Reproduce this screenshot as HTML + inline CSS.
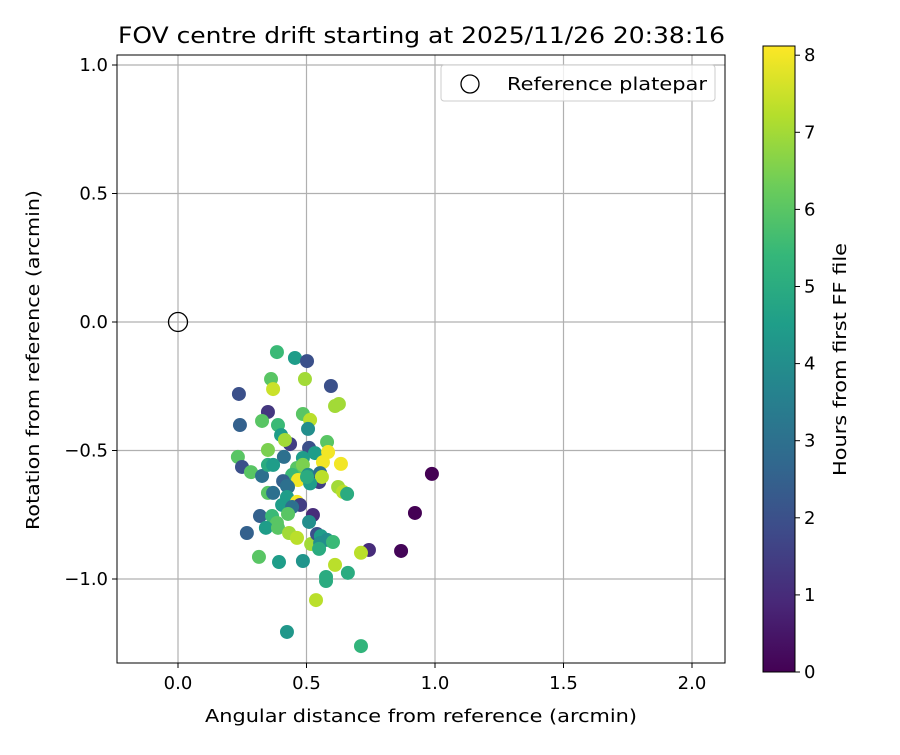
<!DOCTYPE html>
<html><head><meta charset="utf-8"><style>
body{margin:0;background:#fff}
svg text{font-family:"DejaVu Sans","Liberation Sans",sans-serif;fill:#000}
</style></head><body>
<svg id="chart" width="900" height="750" viewBox="0 0 900 750" xmlns="http://www.w3.org/2000/svg">
<defs>
<linearGradient id="vir" x1="0" y1="1" x2="0" y2="0"></linearGradient>
<clipPath id="clip"><rect x="117" y="55" width="608" height="608"/></clipPath>
</defs>
<rect width="900" height="750" fill="#fff"/>
<text x="118" y="43" font-size="22" textLength="607" lengthAdjust="spacingAndGlyphs">FOV centre drift starting at 2025/11/26 20:38:16</text>
<g id="grid"></g>
<g id="pts" clip-path="url(#clip)"></g>
<rect x="117" y="55" width="608" height="608" fill="none" stroke="#000" stroke-width="1"/>
<g id="ticks"></g>
<text x="205" y="722" font-size="18" textLength="432" lengthAdjust="spacingAndGlyphs">Angular distance from reference (arcmin)</text>
<text transform="translate(39,530) rotate(-90)" font-size="18" textLength="340" lengthAdjust="spacingAndGlyphs">Rotation from reference (arcmin)</text>
<g>
<rect x="441" y="65" width="274" height="36" rx="3" fill="#fff" fill-opacity="0.8" stroke="#ccc"/>
<circle cx="470" cy="84" r="9" fill="none" stroke="#000" stroke-width="1.3"/>
<text x="507" y="90" font-size="18" textLength="200" lengthAdjust="spacingAndGlyphs">Reference platepar</text>
</g>
<rect x="763" y="46" width="32" height="626" fill="url(#vir)" stroke="#000" stroke-width="1"/>
<g id="cbticks"></g>
<text transform="translate(846,476) rotate(-90)" font-size="18" textLength="233" lengthAdjust="spacingAndGlyphs">Hours from first FF file</text>
</svg>
<script>
const xs=[0.385,0.455,0.502,0.362,0.494,0.370,0.237,0.595,0.611,0.626,0.350,0.327,0.241,0.486,0.514,0.389,0.506,0.401,0.580,0.436,0.416,0.510,0.533,0.584,0.350,0.412,0.233,0.249,0.284,0.327,0.350,0.370,0.564,0.634,0.486,0.463,0.486,0.444,0.506,0.553,0.549,0.560,0.467,0.409,0.424,0.623,0.642,0.658,0.350,0.514,0.502,0.988,0.922,0.868,0.743,0.712,0.428,0.370,0.424,0.405,0.463,0.475,0.444,0.525,0.510,0.428,0.319,0.366,0.385,0.342,0.268,0.389,0.432,0.463,0.518,0.541,0.556,0.580,0.553,0.549,0.603,0.315,0.393,0.486,0.611,0.661,0.576,0.576,0.537,0.424,0.712];
const ys=[-0.117,-0.140,-0.152,-0.222,-0.222,-0.261,-0.280,-0.249,-0.327,-0.319,-0.350,-0.385,-0.401,-0.358,-0.381,-0.401,-0.416,-0.440,-0.467,-0.475,-0.459,-0.490,-0.510,-0.506,-0.498,-0.525,-0.525,-0.564,-0.584,-0.599,-0.556,-0.556,-0.545,-0.552,-0.529,-0.568,-0.556,-0.595,-0.595,-0.588,-0.623,-0.603,-0.615,-0.619,-0.638,-0.642,-0.661,-0.669,-0.665,-0.628,-0.603,-0.591,-0.743,-0.891,-0.887,-0.898,-0.642,-0.665,-0.681,-0.712,-0.700,-0.712,-0.720,-0.751,-0.778,-0.747,-0.755,-0.755,-0.782,-0.801,-0.821,-0.801,-0.821,-0.840,-0.864,-0.825,-0.833,-0.848,-0.860,-0.883,-0.856,-0.914,-0.934,-0.930,-0.945,-0.976,-0.992,-1.008,-1.082,-1.206,-1.261];
const hours=[5.5,4.5,2,6,7,7.5,2,2,7,7,1.3,6,2.5,6,7.3,5.5,4,4.5,6,1.5,7,2,4.5,8,6.5,3,6,2,6,3,5,4.5,8,8,4.5,6,6.5,5.5,4,3,1.5,7.3,8,2.5,3,7,7.3,5,6,4.5,5,0,0,0.1,1,7.3,3,3,4.5,4.5,8,1.5,3,1,4,6,2.5,5.5,6,4.5,2.5,6,7,7.3,7,2,4.5,4,4,5,5.5,6,4.5,4.2,7.3,5,5,5,7.3,4.3,5.3];
const xTicks=[0,0.5,1,1.5,2], xTickLabels=["0.0","0.5","1.0","1.5","2.0"];
const yTicks=[1,0.5,0,-0.5,-1], yTickLabels=["1.0","0.5","0.0","\u22120.5","\u22121.0"];
const cTicks=[0,1,2,3,4,5,6,7,8];
const NS="http://www.w3.org/2000/svg";
const X=v=>178+v*257, Y=v=>322-v*257, C=v=>672-v*77.1;
const vir=[[68,1,84],[72,40,120],[62,74,137],[49,104,142],[38,130,142],[31,158,137],[53,183,121],[109,205,89],[180,222,44],[253,231,37]];
function col(h){let t=Math.max(0,Math.min(1,h/8.13))*(vir.length-1);let i=Math.min(Math.floor(t),vir.length-2),f=t-i;const c=vir[i].map((a,k)=>Math.round(a+(vir[i+1][k]-a)*f));return `rgb(${c})`;}
function mk(tag,at,par){const e=document.createElementNS(NS,tag);for(const k in at)e.setAttribute(k,at[k]);par.appendChild(e);return e;}
const g=document.getElementById('grid'),tk=document.getElementById('ticks'),pts=document.getElementById('pts'),cb=document.getElementById('cbticks');
xTicks.forEach((v,i)=>{const l=mk('line',{x1:X(v),x2:X(v),y1:55,y2:663,stroke:'#b0b0b0','stroke-width':1.2},g);


mk('line',{x1:X(v),x2:X(v),y1:663,y2:668,stroke:'#000'},tk);
const t=mk('text',{x:X(v),y:689,'font-size':18,'text-anchor':'middle'},tk);t.textContent=xTickLabels[i];

});
yTicks.forEach((v,i)=>{const l=mk('line',{x1:117,x2:725,y1:Y(v),y2:Y(v),stroke:'#b0b0b0','stroke-width':1.2},g);


mk('line',{x1:112,x2:117,y1:Y(v),y2:Y(v),stroke:'#000'},tk);
const t=mk('text',{x:108,y:Y(v)+6,'font-size':18,'text-anchor':'end'},tk);t.textContent=yTickLabels[i];

});
const ref=mk('circle',{cx:X(0),cy:Y(0),r:9.5,fill:'none',stroke:'#000','stroke-width':1.3},pts);


xs.forEach((x,i)=>{const c=mk('circle',{cx:X(x),cy:Y(ys[i]),r:7,fill:col(hours[i])},pts);

});
const gr=document.getElementById('vir');
vir.forEach((c,i)=>mk('stop',{offset:i/(vir.length-1),'stop-color':`rgb(${c})`},gr));
cTicks.forEach(v=>{mk('line',{x1:795,x2:800,y1:C(v),y2:C(v),stroke:'#000'},cb);
const t=mk('text',{x:804,y:C(v)+6,'font-size':18},cb);t.textContent=String(v);

});
</script>
</body></html>
